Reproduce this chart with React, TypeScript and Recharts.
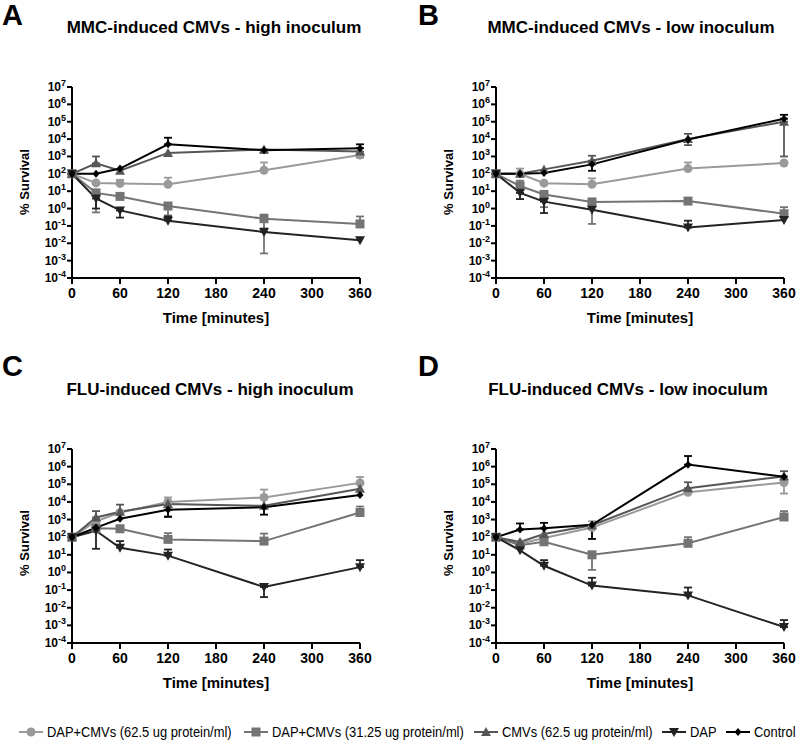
import React from 'react';
import { LineChart, Line, XAxis, YAxis, ErrorBar } from 'recharts';

// sampling times (minutes)
const times = [0, 30, 60, 120, 240, 360];
const xTicks = [0, 60, 120, 180, 240, 300, 360];
const yTicks = [1e-4, 1e-3, 1e-2, 1e-1, 1, 10, 100, 1e3, 1e4, 1e5, 1e6, 1e7];

type Err = [number, number] | null;

// A: MMC-induced CMVs - high inoculum
const aCircle = [100, 30, 28, 25, 160, 1200];
const aCircleErr: Err[] = [null, null, [28, 45], [25, 60], [160, 450], [900, 1600]];
const aSquare = [100, 8, 5, 1.4, 0.26, 0.13];
const aSquareErr: Err[] = [null, [0.6, 8], null, [0.4, 1.4], [0.0026, 0.45], [0.13, 0.35]];
const aTriangle = [100, 400, 150, 1600, 2500, 1900];
const aTriangleErr: Err[] = [null, [400, 1000], null, null, [1600, 2500], [900, 1900]];
const aDap = [100, 3.8, 0.78, 0.2, 0.045, 0.015];
const aDapErr: Err[] = [null, [1, 3.8], [0.3, 0.78], [0.2, 0.35], [0.045, 0.07], null];
const aControl = [100, 100, 200, 5000, 2300, 3000];
const aControlErr: Err[] = [null, null, null, [5000, 12000], null, [3000, 5000]];

// B: MMC-induced CMVs - low inoculum
const bCircle = [100, 100, 29, 25, 200, 420];
const bCircleErr: Err[] = [null, [100, 200], null, [25, 55], [200, 450], null];
const bSquare = [100, 20, 6.5, 2.4, 2.7, 0.5];
const bSquareErr: Err[] = [null, [20, 40], [1.2, 6.5], [0.13, 2.4], null, [0.5, 1.2]];
const bTriangle = [100, 100, 180, 570, 10000, 100000];
const bTriangleErr: Err[] = [null, null, null, [570, 1100], [4500, 20000], [1000, 100000]];
const bDap = [100, 8, 2.5, 0.85, 0.08, 0.22];
const bDapErr: Err[] = [null, [3.5, 8], [0.55, 2.5], null, [0.08, 0.2], null];
const bControl = [100, 100, 110, 350, 9500, 150000];
const bControlErr: Err[] = [null, null, null, [150, 350], null, [150000, 250000]];

// C: FLU-induced CMVs - high inoculum
const cCircle = [100, 800, 2500, 10000, 18000, 120000];
const cCircleErr: Err[] = [null, null, null, [1600, 18000], [18000, 50000], [120000, 260000]];
const cSquare = [100, 320, 300, 75, 60, 2500];
const cSquareErr: Err[] = [null, null, null, [75, 170], [60, 160], [2500, 5500]];
const cTriangle = [100, 1300, 2800, 7500, 6000, 55000];
const cTriangleErr: Err[] = [null, [1300, 3000], [2800, 7000], null, null, null];
const cDap = [100, 230, 25, 9, 0.15, 2];
const cDapErr: Err[] = [null, [22, 230], [25, 60], [9, 20], [0.04, 0.15], [2, 5]];
const cControl = [100, 350, 1100, 3600, 5000, 25000];
const cControlErr: Err[] = [null, null, null, [1400, 3600], [1900, 5000], null];

// D: FLU-induced CMVs - low inoculum
const dCircle = [100, 43, 90, 350, 35000, 125000];
const dCircleErr: Err[] = [null, null, null, [80, 800], null, [30000, 125000]];
const dSquare = [100, 35, 55, 10, 45, 1400];
const dSquareErr: Err[] = [null, null, null, [1.4, 10], [45, 100], [1400, 3000]];
const dTriangle = [100, 53, 150, 480, 60000, 280000];
const dTriangleErr: Err[] = [null, null, null, null, [60000, 130000], [280000, 550000]];
const dDap = [100, 18, 2.4, 0.18, 0.05, 0.0008];
const dDapErr: Err[] = [null, null, [2.4, 5], [0.18, 0.5], [0.05, 0.14], [0.0008, 0.002]];
const dControl = [100, 270, 320, 500, 1300000, 270000];
const dControlErr: Err[] = [null, [270, 600], [320, 650], [80, 500], [1300000, 4000000], null];

const legendNames = [
  'DAP+CMVs (62.5 ug protein/ml)',
  'DAP+CMVs (31.25 ug protein/ml)',
  'CMVs (62.5 ug protein/ml)',
  'DAP',
  'Control',
];

const FONT = "'Liberation Sans', Arial, Helvetica, sans-serif";

type Kind = 'circle' | 'square' | 'triangle' | 'dap' | 'control';
const kinds: Kind[] = ['circle', 'square', 'triangle', 'dap', 'control'];
const colors: Record<Kind, string> = {
  circle: '#9a9a9a',
  square: '#747474',
  triangle: '#565656',
  dap: '#232323',
  control: '#000000',
};

function Marker({ kind, cx, cy }: { kind: Kind; cx: number; cy: number }) {
  const c = colors[kind];
  if (kind === 'circle') return <circle cx={cx} cy={cy} r={4.5} fill={c} />;
  if (kind === 'square') return <rect x={cx - 4.5} y={cy - 4.5} width={9} height={9} fill={c} />;
  if (kind === 'triangle')
    return <polygon points={`${cx},${cy - 5} ${cx + 5},${cy + 4} ${cx - 5},${cy + 4}`} fill={c} />;
  if (kind === 'dap')
    return <polygon points={`${cx - 5},${cy - 4} ${cx + 5},${cy - 4} ${cx},${cy + 5}`} fill={c} />;
  return <polygon points={`${cx},${cy - 4} ${cx + 3.5},${cy} ${cx},${cy + 4} ${cx - 3.5},${cy}`} fill={c} />;
}

const dotFor = (kind: Kind) => (p: any) => {
  if (p.cx == null || p.cy == null) return <g key={p.index} />;
  return <Marker key={p.index} kind={kind} cx={p.cx} cy={p.cy} />;
};

function PowTick(props: any) {
  const { x, y, payload } = props;
  const exp = Math.round(Math.log10(payload.value));
  return (
    <text x={x} y={y + 4} textAnchor="end" fontFamily={FONT} fontWeight="bold" fill="#000">
      <tspan fontSize={12}>10</tspan>
      <tspan fontSize={9} dy={-5}>{String(exp)}</tspan>
    </text>
  );
}

type PanelSeries = Record<Kind, number[]>;
type PanelErrs = Record<Kind, Err[]>;

function buildRows(vals: PanelSeries, errs: PanelErrs) {
  return times.map((t, i) => {
    const row: any = { t };
    kinds.forEach((k) => {
      const v = vals[k][i];
      const e = errs[k][i];
      row[k] = v;
      row[k + 'Err'] = e ? [v - e[0], e[1] - v] : null;
    });
    return row;
  });
}

type PanelProps = {
  letter: string;
  title: string;
  titleX: number;
  rows: any[];
  left: number;
  top: number;
  height: number;
  margin: { top: number; right: number; bottom: number; left: number };
  labelX: number;
  labelY: number;
  letterX: number;
  letterY: number;
};

function Panel(p: PanelProps) {
  const plotLeft = p.margin.left + 60;
  const plotRight = 400 - p.margin.right;
  const plotBottom = p.height - p.margin.bottom - 30;
  return (
    <div style={{ position: 'absolute', left: p.left, top: p.top, width: 400, height: p.height }}>
      <LineChart width={400} height={p.height} data={p.rows} margin={p.margin}>
        <XAxis
          dataKey="t"
          type="number"
          domain={[0, 360]}
          ticks={xTicks}
          interval={0}
          height={30}
          stroke="#000"
          axisLine={{ stroke: '#000', strokeWidth: 2 }}
          tickLine={{ stroke: '#000', strokeWidth: 2 }}
          tickSize={6}
          tickMargin={4}
          tick={{ fontSize: 14, fontWeight: 'bold', fill: '#000', fontFamily: FONT }}
        />
        <YAxis
          type="number"
          scale="log"
          domain={[1e-4, 1e7]}
          ticks={yTicks}
          interval={0}
          allowDataOverflow
          width={60}
          axisLine={{ stroke: '#000', strokeWidth: 2 }}
          tickLine={{ stroke: '#000', strokeWidth: 2 }}
          tickSize={5}
          tickMargin={1}
          tick={<PowTick />}
        />
        {kinds.map((k) => (
          <Line
            key={k}
            dataKey={k}
            stroke={colors[k]}
            strokeWidth={2}
            dot={dotFor(k)}
            activeDot={false}
            isAnimationActive={false}
          >
            <ErrorBar dataKey={k + 'Err'} direction="y" width={4} stroke={colors[k]} strokeWidth={1.8} />
          </Line>
        ))}
      </LineChart>
      <div
        style={{
          position: 'absolute',
          left: p.letterX,
          top: p.letterY,
          fontFamily: FONT,
          fontWeight: 'bold',
          fontSize: 29,
          lineHeight: '30px',
        }}
      >
        {p.letter}
      </div>
      <div
        style={{
          position: 'absolute',
          left: p.titleX - 200,
          width: 400,
          top: p.margin.top - 69,
          textAlign: 'center',
          fontFamily: FONT,
          fontWeight: 'bold',
          fontSize: 17,
          lineHeight: '20px',
        }}
      >
        {p.title}
      </div>
      <div
        style={{
          position: 'absolute',
          left: p.labelX - 60,
          top: p.labelY - 10,
          width: 120,
          height: 20,
          lineHeight: '20px',
          textAlign: 'center',
          transform: 'rotate(-90deg)',
          fontFamily: FONT,
          fontWeight: 'bold',
          fontSize: 13,
        }}
      >
        % Survival
      </div>
      <div
        style={{
          position: 'absolute',
          left: (plotLeft + plotRight) / 2 - 100,
          width: 200,
          top: plotBottom + 31,
          textAlign: 'center',
          fontFamily: FONT,
          fontWeight: 'bold',
          fontSize: 15,
          lineHeight: '18px',
        }}
      >
        Time [minutes]
      </div>
    </div>
  );
}

const legendIconX = [18, 243, 473, 661, 725];

function Legend() {
  return (
    <div style={{ position: 'absolute', left: 0, top: 722, width: 800, height: 20 }}>
      {kinds.map((k, i) => (
        <div
          key={k}
          style={{ position: 'absolute', left: legendIconX[i], top: 0, height: 20, display: 'flex', alignItems: 'center' }}
        >
          <svg width={26} height={14}>
            <line x1={1} y1={7} x2={25} y2={7} stroke={colors[k]} strokeWidth={2} />
            <Marker kind={k} cx={13} cy={7} />
          </svg>
          <span
            style={{
              marginLeft: 3,
              display: 'inline-block',
              fontFamily: FONT,
              fontSize: 15,
              lineHeight: '20px',
              color: '#000',
              whiteSpace: 'nowrap',
              transform: 'scaleX(0.86)',
              transformOrigin: 'left center',
            }}
          >
            {legendNames[i]}
          </span>
        </div>
      ))}
    </div>
  );
}

const rowsA = buildRows(
  { circle: aCircle, square: aSquare, triangle: aTriangle, dap: aDap, control: aControl },
  { circle: aCircleErr, square: aSquareErr, triangle: aTriangleErr, dap: aDapErr, control: aControlErr },
);
const rowsB = buildRows(
  { circle: bCircle, square: bSquare, triangle: bTriangle, dap: bDap, control: bControl },
  { circle: bCircleErr, square: bSquareErr, triangle: bTriangleErr, dap: bDapErr, control: bControlErr },
);
const rowsC = buildRows(
  { circle: cCircle, square: cSquare, triangle: cTriangle, dap: cDap, control: cControl },
  { circle: cCircleErr, square: cSquareErr, triangle: cTriangleErr, dap: cDapErr, control: cControlErr },
);
const rowsD = buildRows(
  { circle: dCircle, square: dSquare, triangle: dTriangle, dap: dDap, control: dControl },
  { circle: dCircleErr, square: dSquareErr, triangle: dTriangleErr, dap: dDapErr, control: dControlErr },
);

export default function App() {
  const topMargin = { top: 87, bottom: 22 };
  const botMargin = { top: 119, bottom: 17 };
  return (
    <div style={{ position: 'absolute', left: 0, top: 0, width: 800, height: 748, background: '#fff', overflow: 'hidden' }}>
      <Panel
        letter="A"
        title="MMC-induced CMVs - high inoculum"
        titleX={214}
        rows={rowsA}
        left={0}
        top={0}
        height={330}
        margin={{ ...topMargin, left: 12, right: 40 }}
        labelX={25}
        labelY={182}
        letterX={2}
        letterY={0}
      />
      <Panel
        letter="B"
        title="MMC-induced CMVs - low inoculum"
        titleX={231}
        rows={rowsB}
        left={400}
        top={0}
        height={330}
        margin={{ ...topMargin, left: 36, right: 16 }}
        labelX={49}
        labelY={182}
        letterX={18}
        letterY={0}
      />
      <Panel
        letter="C"
        title="FLU-induced CMVs - high inoculum"
        titleX={210}
        rows={rowsC}
        left={0}
        top={330}
        height={360}
        margin={{ ...botMargin, left: 12, right: 40 }}
        labelX={25}
        labelY={213}
        letterX={2}
        letterY={21}
      />
      <Panel
        letter="D"
        title="FLU-induced CMVs - low inoculum"
        titleX={228}
        rows={rowsD}
        left={400}
        top={330}
        height={360}
        margin={{ ...botMargin, left: 36, right: 16 }}
        labelX={49}
        labelY={213}
        letterX={18}
        letterY={21}
      />
      <Legend />
    </div>
  );
}
